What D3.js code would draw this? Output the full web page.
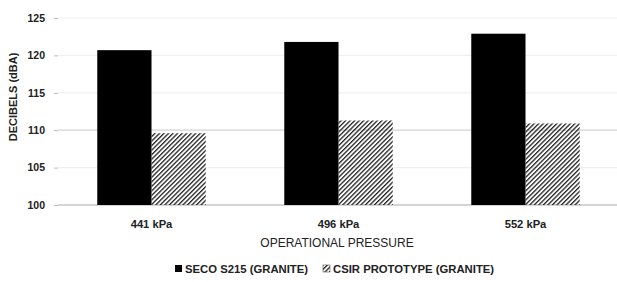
<!DOCTYPE html>
<html>
<head>
<meta charset="utf-8">
<script src="https://cdn.jsdelivr.net/npm/d3@7"></script>
<style>
  body { margin: 0; background: #fff; }
  text { font-family: "Liberation Sans", Arial, sans-serif; fill: #222; }
</style>
</head>
<body>
<div class="chart"></div>
<script>
var categories = ['441 kPa', '496 kPa', '552 kPa'];
var seriesNames = ['SECO S215 (GRANITE)', 'CSIR PROTOTYPE (GRANITE)'];
var secoValues = [120.7, 121.8, 122.9];
var csirValues = [109.6, 111.3, 110.9];
var yTicks = [100, 105, 110, 115, 120, 125];

var opts = {
  width: 617,
  height: 282,
  left: 58,
  right: 619,
  top: 18,
  bottom: 205
}

var svg = d3.select('.chart').append('svg')
            .attr('width', opts.width)
            .attr('height', opts.height);

// hatch pattern for the second series
var defs = svg.append('defs');
defs.append('pattern')
    .attr('id', 'hatch')
    .attr('patternUnits', 'userSpaceOnUse')
    .attr('width', 3.2)
    .attr('height', 3.2)
    .attr('patternTransform', 'rotate(45)')
  .append('rect')
    .attr('x', 0).attr('y', 0)
    .attr('width', 1.3).attr('height', 3.2)
    .attr('fill', '#222');

var x = d3.scaleBand()
          .domain(categories)
          .range([opts.left, opts.right])
          .paddingInner(0.42)
          .paddingOuter(0.21);

var xSeries = d3.scaleBand()
                .domain([0, 1])
                .range([0, x.bandwidth()]);

var y = d3.scaleLinear()
          .domain([100, 125])
          .range([opts.bottom, opts.top]);

// gridlines
svg.append('g').selectAll('line')
   .data(yTicks.slice(1))
   .enter().append('line')
     .attr('x1', opts.left).attr('x2', opts.right)
     .attr('y1', function(d){ return y(d); })
     .attr('y2', function(d){ return y(d); })
     .attr('stroke', function(d){ return d === 110 ? '#d4d4d4' : '#f0f0f0'; })
     .attr('stroke-width', 1.2);

// y axis
var yAxis = svg.append('g')
               .attr('transform', 'translate(' + opts.left + ',0)')
               .call(d3.axisLeft(y).tickValues(yTicks).tickSize(4).tickPadding(9));
yAxis.select('.domain').remove();
yAxis.selectAll('line').attr('stroke', '#bbb');
yAxis.selectAll('text')
     .style('font-size', '10.5px')
     .style('font-weight', 'bold')
     .attr('fill', '#333');

// baseline
svg.append('line')
   .attr('x1', opts.left).attr('x2', opts.right)
   .attr('y1', y(100)).attr('y2', y(100))
   .attr('stroke', '#aaa');

var rows = categories.map(function(c, i){
  return { cat: c, values: [secoValues[i], csirValues[i]] };
});

var groups = svg.append('g').selectAll('g')
                .data(rows)
                .enter().append('g')
                  .attr('transform', function(d){ return 'translate(' + x(d.cat) + ',0)'; });

groups.selectAll('rect')
      .data(function(d){ return d.values.map(function(v, j){ return { s: j, v: v }; }); })
      .enter().append('rect')
        .attr('x', function(d){ return xSeries(d.s); })
        .attr('width', xSeries.bandwidth())
        .attr('y', function(d){ return y(d.v); })
        .attr('height', function(d){ return y(100) - y(d.v); })
        .attr('fill', function(d){ return d.s === 0 ? '#000' : 'url(#hatch)'; });

// x axis labels
var xAxis = svg.append('g')
               .attr('transform', 'translate(0,' + opts.bottom + ')')
               .call(d3.axisBottom(x).tickSize(0).tickPadding(15));
xAxis.select('.domain').remove();
xAxis.selectAll('text')
     .style('font-size', '11.2px')
     .style('font-weight', 'bold')
     .attr('fill', '#333');

// axis titles
svg.append('text')
   .attr('x', 337)
   .attr('y', 247)
   .attr('text-anchor', 'middle')
   .style('font-size', '12px')
   .text('OPERATIONAL PRESSURE');

svg.append('text')
   .attr('transform', 'translate(17,97) rotate(-90)')
   .attr('text-anchor', 'middle')
   .style('font-size', '11px')
   .style('font-weight', 'bold')
   .text('DECIBELS (dBA)');

// legend
var legend = svg.append('g').attr('transform', 'translate(175,273)');
var legendX = [0, 148];
seriesNames.forEach(function(name, i){
  var item = legend.append('g').attr('transform', 'translate(' + legendX[i] + ',0)');
  item.append('rect')
      .attr('x', 0).attr('y', -8)
      .attr('width', 7).attr('height', 7)
      .attr('fill', i === 0 ? '#000' : 'url(#hatch)')
      .attr('stroke', i === 0 ? 'none' : '#555')
      .attr('stroke-width', 0.6);
  item.append('text')
      .attr('x', 10).attr('y', 0)
      .style('font-size', '11.3px')
      .style('font-weight', 'bold')
      .text(name);
});
</script>
</body>
</html>
